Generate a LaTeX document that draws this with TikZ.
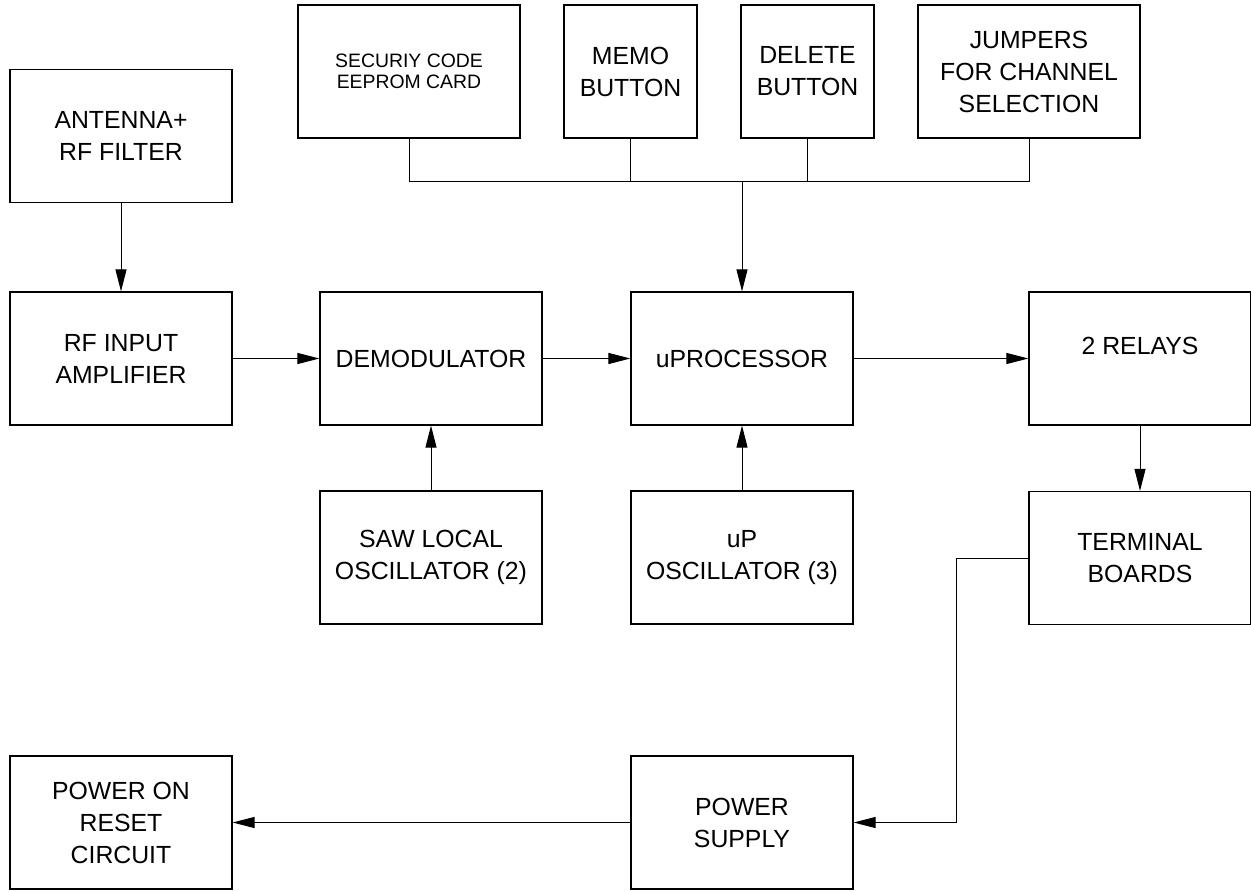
\documentclass[tikz,border=0pt]{standalone}
\usepackage{fontspec}
\setmainfont{Liberation Sans}
\usetikzlibrary{arrows.meta}
\begin{document}
\begin{tikzpicture}[
    x=0.5pt, y=-0.5pt,
    blk/.style={draw, line width=0.6pt, minimum width=111pt, minimum height=66.5pt, inner sep=0pt,
        align=center, font=\fontsize{12.4}{16}\selectfont},
    narrow/.style={blk, minimum width=66.5pt},
    wire/.style={line width=0.5pt},
    arr/.style={wire, -{Triangle[length=11pt,width=5.5pt]}}
    ]
	\useasboundingbox (0,0) rectangle (1251,892);
	\node [blk] (ant) at (121,136) {ANTENNA+\\RF FILTER};
	\node [blk] (rfamp) at (121,358.5) {RF INPUT\\AMPLIFIER};
	\node [blk] (demod) at (431,358.5) {DEMODULATOR};
	\node [blk] (uproc) at (742,358.5) {uPROCESSOR};
	\node [blk, label={[yshift=6.5pt, font=\fontsize{12.4}{16}\selectfont]center:2 RELAYS}] (relays) at (1140,358.5) {};
	\node [blk, font=\fontsize{9.7}{10.5}\selectfont] (sec) at (409,71.5) {SECURIY CODE\\EEPROM CARD};
	\node [narrow] (memo) at (630.5,71.5) {MEMO\\BUTTON};
	\node [narrow] (del) at (807.5,71.5) {DELETE\\BUTTON};
	\node [blk] (jump) at (1029,71.5) {JUMPERS\\FOR CHANNEL\\SELECTION};
	\node [blk] (saw) at (431,557.5) {SAW LOCAL\\OSCILLATOR (2)};
	\node [blk] (uposc) at (742,557.5) {uP\\OSCILLATOR (3)};
	\node [blk] (term) at (1140,558) {TERMINAL\\BOARDS};
	\node [blk] (por) at (121,822.5) {POWER ON\\RESET\\CIRCUIT};
	\node [blk] (ps) at (742,822.5) {POWER\\SUPPLY};
	\coordinate (bus) at (741,182);
	\coordinate (bend) at (956,558);
	\draw [wire] (sec.south) -- (sec.south |- bus) -- (jump.south |- bus) -- (jump.south);
	\draw [wire] (memo.south) -- (memo.south |- bus);
	\draw [wire] (del.south) -- (del.south |- bus);
	\draw [arr] (uproc.north |- bus) -- (uproc.north);
	\draw [arr] (ant) -- (rfamp);
	\draw [arr] (rfamp) -- (demod);
	\draw [arr] (demod) -- (uproc);
	\draw [arr] (uproc) -- (relays);
	\draw [arr] (saw) -- (demod);
	\draw [arr] (uposc) -- (uproc);
	\draw [arr] (relays) -- (term);
	\draw [arr] (term.west) -- (bend) |- (ps.east);
	\draw [arr] (ps) -- (por);
\end{tikzpicture}
\end{document}
